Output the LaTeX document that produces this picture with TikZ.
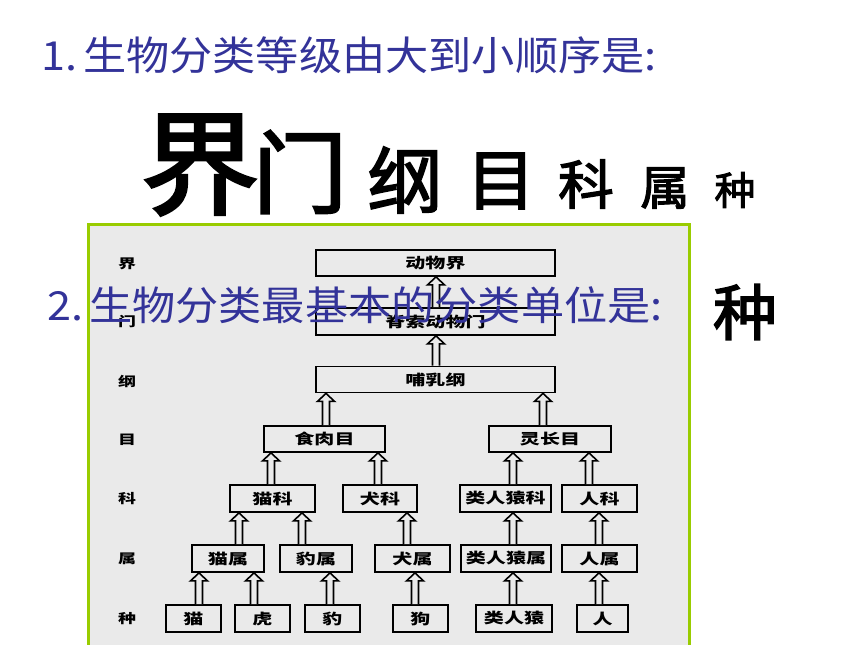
\documentclass[tikz,border=0pt]{standalone}
\usepackage{fontspec}
\newfontfamily\cjk[FakeStretch=1.08]{Noto Sans CJK SC}
\newfontfamily\cjkbig[FakeStretch=1.05,FakeBold=2.5]{Noto Sans CJK SC}
\newfontfamily\cjkbox[FakeStretch=1.38]{Noto Sans CJK SC}
\usetikzlibrary{calc}
\definecolor{titleblue}{RGB}{51,51,153}
\definecolor{framegreen}{RGB}{153,204,0}
\definecolor{bggray}{RGB}{234,234,234}
\begin{document}
\begin{tikzpicture}[x=1bp,y=-1bp,
  tbox/.style={draw=black, line width=1.8bp, fill=bggray, inner sep=0pt,
    font=\cjkbox\bfseries\fontsize{14.5bp}{14.5bp}\selectfont},
  lbl/.style={inner sep=0pt, font=\cjkbox\bfseries\fontsize{13bp}{13bp}\selectfont},
  hollow/.style={draw=black, line width=1.6bp, fill=bggray, line join=miter,
    to path={let \p1=(\tikztostart), \p2=(\tikztotarget) in
      (\x1-3.5bp,\y1) -- (\x1-3.5bp,\y2-8bp) -- (\x1-8.5bp,\y2-8bp) -- (\x1,\y2)
      -- (\x1+8.5bp,\y2-8bp) -- (\x1+3.5bp,\y2-8bp) -- (\x1+3.5bp,\y1)}},
  bigtxt/.style={inner ysep=0pt, inner xsep=-5bp, text=black, font=\cjkbig},
  ttl/.style={inner sep=0pt, anchor=west, text=titleblue, font=\cjk\fontsize{40bp}{40bp}\selectfont}
]
\useasboundingbox[fill=white] (0,0) rectangle (860,645);

% title 1
\node[ttl] (t1) at (41,55) {1.\hspace{6bp}生物分类等级由大到小顺序是:};

% big characters
\node[bigtxt] (b1) at (200,165) {\fontsize{113bp}{113bp}\selectfont 界};
\node[bigtxt] (b2) at (300,172) {\fontsize{90bp}{90bp}\selectfont 门};
\node[bigtxt] (b3) at (405,180) {\fontsize{72bp}{72bp}\selectfont 纲};
\node[bigtxt] (b4) at (501,181) {\fontsize{66bp}{66bp}\selectfont 目};
\node[bigtxt] (b5) at (586,184) {\fontsize{53bp}{53bp}\selectfont 科};
\node[bigtxt] (b6) at (665,188) {\fontsize{47bp}{47bp}\selectfont 属};
\node[bigtxt] (b7) at (735,190) {\fontsize{39bp}{39bp}\selectfont 种};

% frame
\draw[framegreen, line width=3bp, fill=bggray] (88,225) rectangle (689,662);

% left rank labels
\node[lbl] (Ljie) at (127,264) {界};
\node[lbl] (Lmen) at (127,322) {门};
\node[lbl] (Lgang) at (127,381) {纲};
\node[lbl] (Lmu) at (127,440) {目};
\node[lbl] (Lke) at (127,499) {科};
\node[lbl] (Lshu) at (127,559) {属};
\node[lbl] (Lzhong) at (127,619) {种};

% boxes
\node[tbox, minimum width=239bp, minimum height=26bp] (jie) at (435.5,263) {动物界};
\node[tbox, minimum width=239bp, minimum height=27bp] (men) at (435.5,321.5) {脊索动物门};
\node[tbox, minimum width=239bp, minimum height=26bp] (gang) at (435.5,379.5) {哺乳纲};
\node[tbox, minimum width=121bp, minimum height=26bp] (shirou) at (324.5,439) {食肉目};
\node[tbox, minimum width=122bp, minimum height=26bp] (lingzhang) at (550,439) {灵长目};
\node[tbox, minimum width=85bp, minimum height=27bp] (maoke) at (272.5,498.5) {猫科};
\node[tbox, minimum width=74bp, minimum height=27bp] (quanke) at (380,498.5) {犬科};
\node[tbox, minimum width=91bp, minimum height=27bp] (yuanke) at (505.5,498.5) {类人猿科};
\node[tbox, minimum width=75bp, minimum height=27bp] (renke) at (599.5,498.5) {人科};
\node[tbox, minimum width=72bp, minimum height=27bp] (maoshu) at (228,558.5) {猫属};
\node[tbox, minimum width=72bp, minimum height=27bp] (baoshu) at (316,558.5) {豹属};
\node[tbox, minimum width=75bp, minimum height=27bp] (quanshu) at (412.5,558.5) {犬属};
\node[tbox, minimum width=90bp, minimum height=27bp] (yuanshu) at (506,558.5) {类人猿属};
\node[tbox, minimum width=75bp, minimum height=27bp] (renshu) at (599.5,558.5) {人属};
\node[tbox, minimum width=55bp, minimum height=27bp] (mao) at (193.5,618.5) {猫};
\node[tbox, minimum width=55bp, minimum height=27bp] (hu) at (262.5,618.5) {虎};
\node[tbox, minimum width=55bp, minimum height=27bp] (bao) at (332.5,618.5) {豹};
\node[tbox, minimum width=55bp, minimum height=27bp] (gou) at (420.5,618.5) {狗};
\node[tbox, minimum width=76bp, minimum height=27bp] (yuan) at (514,618.5) {类人猿};
\node[tbox, minimum width=51bp, minimum height=27bp] (ren) at (602.5,618.5) {人};

% hollow arrows
\draw[hollow] ([xshift=0.5bp]men.north) to (jie.south);
\draw[hollow] ([xshift=0.5bp]gang.north) to (men.south);
\draw[hollow] ([xshift=1.5bp]shirou.north) to (gang.south);
\draw[hollow] ([xshift=-7bp]lingzhang.north) to (gang.south);
\draw[hollow] ([xshift=-1.5bp]maoke.north) to (shirou.south);
\draw[hollow] ([xshift=-2bp]quanke.north) to (shirou.south);
\draw[hollow] ([xshift=7.5bp]yuanke.north) to (lingzhang.south);
\draw[hollow] ([xshift=-10.5bp]renke.north) to (lingzhang.south);
\draw[hollow] ([xshift=11bp]maoshu.north) to (maoke.south);
\draw[hollow] ([xshift=-14bp]baoshu.north) to (maoke.south);
\draw[hollow] ([xshift=-5.5bp]quanshu.north) to (quanke.south);
\draw[hollow] ([xshift=7bp]yuanshu.north) to (yuanke.south);
\draw[hollow] ([xshift=-0.5bp]renshu.north) to (renke.south);
\draw[hollow] ([xshift=5.5bp]mao.north) to (maoshu.south);
\draw[hollow] ([xshift=-8.5bp]hu.north) to (maoshu.south);
\draw[hollow] ([xshift=-2.5bp]bao.north) to (baoshu.south);
\draw[hollow] ([xshift=-5.5bp]gou.north) to (quanshu.south);
\draw[hollow] ([xshift=-1bp]yuan.north) to (yuanshu.south);
\draw[hollow] ([xshift=-3.5bp]ren.north) to (renshu.south);

% title 2 (over the diagram)
\node[ttl] (t2) at (47,305) {2.\hspace{6bp}生物分类最基本的分类单位是:};

% right answer
\node[bigtxt] (b8) at (745,312) {\fontsize{61bp}{61bp}\selectfont 种};
\end{tikzpicture}
\end{document}
